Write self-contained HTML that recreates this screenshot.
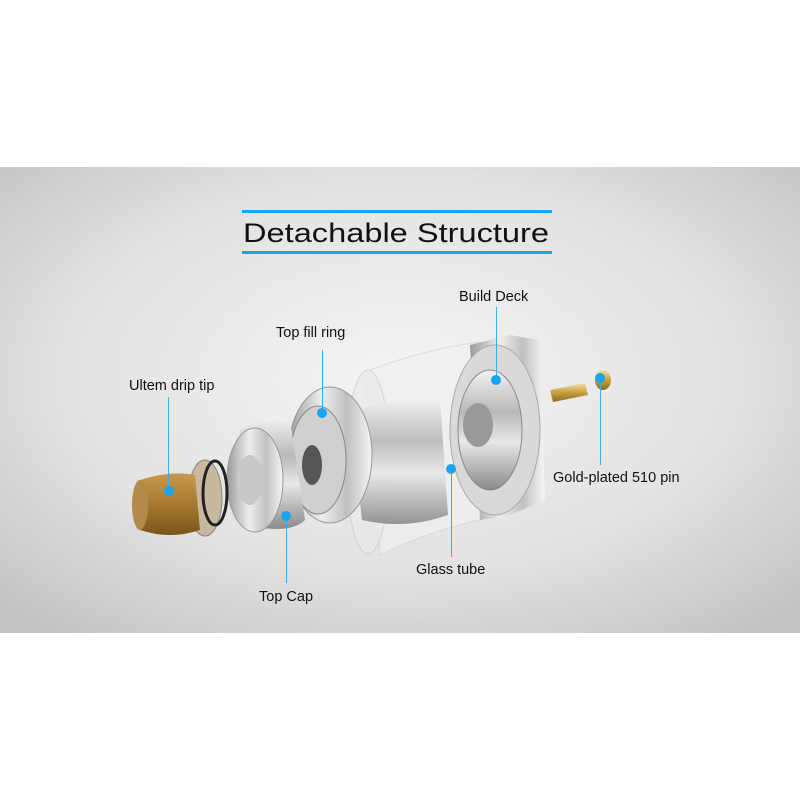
<!DOCTYPE html>
<html><head><meta charset="utf-8"><style>
html,body{margin:0;padding:0;background:#fff;width:800px;height:800px;overflow:hidden}
</style></head><body>
<svg width="800" height="800" viewBox="0 0 800 800" xmlns="http://www.w3.org/2000/svg" font-family="Liberation Sans, sans-serif">
<defs>
<radialGradient id="bg" cx="0.5" cy="0.45" r="0.7">
<stop offset="0" stop-color="#f4f4f4"/><stop offset="0.6" stop-color="#e2e2e2"/><stop offset="1" stop-color="#c4c4c4"/>
</radialGradient>
<linearGradient id="metal" x1="0" y1="0" x2="0" y2="1">
<stop offset="0" stop-color="#f2f2f2"/><stop offset="0.35" stop-color="#b8b8b8"/><stop offset="0.6" stop-color="#e8e8e8"/><stop offset="1" stop-color="#8a8a8a"/>
</linearGradient>
<linearGradient id="metalh" x1="0" y1="0" x2="1" y2="0">
<stop offset="0" stop-color="#9a9a9a"/><stop offset="0.4" stop-color="#eeeeee"/><stop offset="0.7" stop-color="#c0c0c0"/><stop offset="1" stop-color="#f5f5f5"/>
</linearGradient>
<linearGradient id="amber" x1="0" y1="0" x2="0" y2="1">
<stop offset="0" stop-color="#c89a50"/><stop offset="0.5" stop-color="#a87a30"/><stop offset="1" stop-color="#7a5418"/>
</linearGradient>
<linearGradient id="gold" x1="0" y1="0" x2="0" y2="1">
<stop offset="0" stop-color="#f5e0a0"/><stop offset="0.5" stop-color="#c8a040"/><stop offset="1" stop-color="#8a6a20"/>
</linearGradient>
</defs>
<rect x="0" y="167" width="800" height="466" fill="url(#bg)"/>
<!-- title -->
<rect x="242" y="210" width="310" height="3" fill="#18a4ef"/>
<rect x="242" y="251" width="310" height="3" fill="#18a4ef"/>
<text x="243" y="242" font-size="27" fill="#111" textLength="306" lengthAdjust="spacingAndGlyphs">Detachable Structure</text>

<!-- glass tube -->
<path d="M365 372 Q420 350 480 342 L500 515 Q430 530 380 555 Z" fill="#f0f0f0" opacity="0.7" stroke="#d4d4d4"/>
<ellipse cx="368" cy="462" rx="22" ry="92" fill="#eaeaea" stroke="#cfcfcf" opacity="0.85"/>
<path d="M350 415 Q395 392 440 398 L448 515 Q405 530 362 520 Z" fill="url(#metal)" opacity="0.9"/>
<!-- build deck -->
<path d="M470 345 L510 335 L540 340 L545 500 L510 515 L480 520 Z" fill="url(#metalh)"/>
<ellipse cx="495" cy="430" rx="45" ry="85" fill="#d9d9d9" stroke="#aaa"/>
<ellipse cx="490" cy="430" rx="32" ry="60" fill="url(#metal)" stroke="#888"/>
<ellipse cx="478" cy="425" rx="15" ry="22" fill="#999"/>
<!-- pin -->
<path d="M550 390 L585 383 L588 395 L553 402 Z" fill="url(#gold)"/>
<ellipse cx="603" cy="380" rx="8" ry="10" fill="url(#gold)"/>
<!-- top fill ring -->
<ellipse cx="330" cy="455" rx="42" ry="68" fill="url(#metalh)" stroke="#999"/>
<ellipse cx="318" cy="460" rx="28" ry="54" fill="#d0d0d0" stroke="#888"/>
<ellipse cx="312" cy="465" rx="10" ry="20" fill="#555"/>
<!-- top cap -->
<path d="M240 430 Q270 410 290 420 L305 520 Q290 535 245 525 Z" fill="url(#metal)"/>
<ellipse cx="255" cy="480" rx="28" ry="52" fill="url(#metalh)" stroke="#999"/>
<ellipse cx="250" cy="480" rx="13" ry="25" fill="#c8c8c8"/>
<!-- drip tip -->
<ellipse cx="205" cy="498" rx="17" ry="38" fill="#c8b8a0" stroke="#888"/>
<ellipse cx="215" cy="493" rx="12" ry="32" fill="none" stroke="#222" stroke-width="3"/>
<path d="M140 480 Q170 470 195 475 L200 530 Q170 540 140 530 Z" fill="url(#amber)"/>
<ellipse cx="140" cy="505" rx="8" ry="25" fill="#b48a4a"/>

<!-- connectors -->
<g stroke="#3aaef0" stroke-width="1">
<line x1="496.5" y1="307" x2="496.5" y2="380"/>
<line x1="322.5" y1="350" x2="322.5" y2="413"/>
<line x1="168.5" y1="397" x2="168.5" y2="491"/>
<line x1="600.5" y1="378" x2="600.5" y2="465"/>
<line x1="451.5" y1="469" x2="451.5" y2="557"/>
<line x1="286.5" y1="516" x2="286.5" y2="583"/>
</g>
<g fill="#1aa3ef">
<circle cx="496" cy="380" r="5"/>
<circle cx="322" cy="413" r="5"/>
<circle cx="169" cy="491" r="5"/>
<circle cx="600" cy="378" r="5"/>
<circle cx="451" cy="469" r="5"/>
<circle cx="286" cy="516" r="5"/>
</g>
<g font-size="14.5" fill="#111">
<text x="459" y="301">Build Deck</text>
<text x="276" y="337">Top fill ring</text>
<text x="129" y="390">Ultem drip tip</text>
<text x="553" y="482">Gold-plated 510 pin</text>
<text x="416" y="574">Glass tube</text>
<text x="259" y="601">Top Cap</text>
</g>
</svg>
</body></html>
